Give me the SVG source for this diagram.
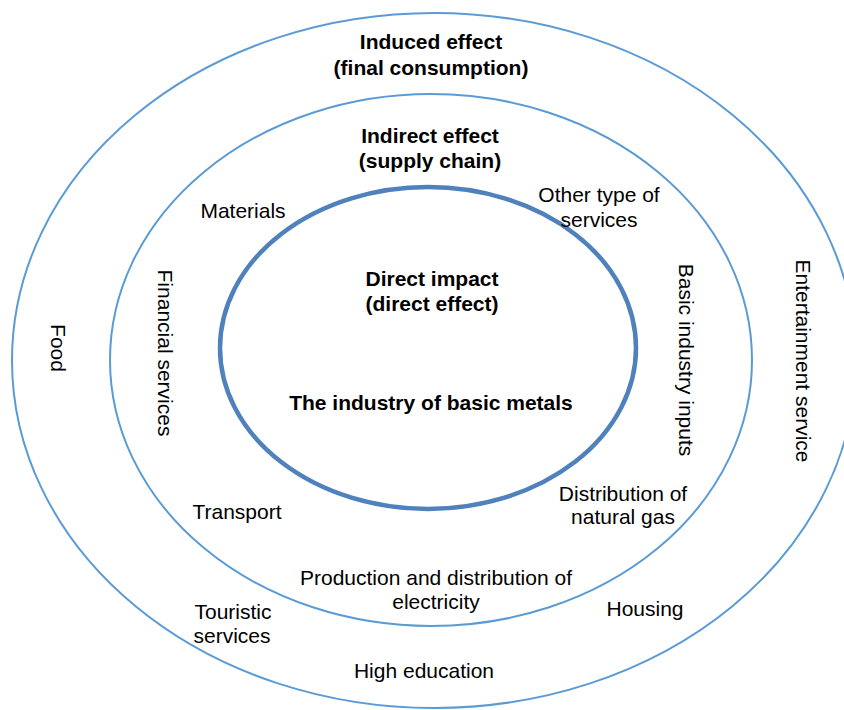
<svg xmlns="http://www.w3.org/2000/svg" width="844" height="710" viewBox="0 0 844 710">
<style>
  .ring { fill: none; stroke: #5B9BD5; stroke-width: 2; }
  .core { fill: none; stroke: #4F81BD; stroke-width: 4.5; }
  text { font-family: "Liberation Sans", Arial, sans-serif; font-size: 21px; fill: #000; text-anchor: middle; }
  .b { font-weight: bold; }
</style>
<rect x="0" y="0" width="844" height="710" fill="#ffffff"/>
<g id="ring-induced">
  <ellipse class="ring" cx="434" cy="360.5" rx="422" ry="347.5"/>
  <text class="b" x="431" y="49">Induced effect</text>
  <text class="b" x="431" y="75">(final consumption)</text>
</g>
<g id="ring-indirect">
  <ellipse class="ring" cx="431" cy="360" rx="321" ry="266"/>
  <text class="b" x="430" y="143">Indirect effect</text>
  <text class="b" x="430" y="168">(supply chain)</text>
</g>
<g id="ring-direct">
  <ellipse class="core" cx="428" cy="348" rx="208" ry="161"/>
  <text class="b" x="432" y="286">Direct impact</text>
  <text class="b" x="432" y="311">(direct effect)</text>
  <text class="b" x="431" y="410">The industry of basic metals</text>
</g>
<g id="label-materials"><text x="243" y="218">Materials</text></g>
<g id="label-other-services"><text x="599" y="202">Other type of</text><text x="599" y="227">services</text></g>
<g id="label-financial"><text transform="translate(158,353) rotate(90)">Financial services</text></g>
<g id="label-food"><text transform="translate(51,348) rotate(90)">Food</text></g>
<g id="label-basic-inputs"><text transform="translate(679,360) rotate(90)">Basic industry inputs</text></g>
<g id="label-entertainment"><text transform="translate(796,361) rotate(90)">Entertainment service</text></g>
<g id="label-transport"><text x="237" y="519">Transport</text></g>
<g id="label-gas"><text x="623" y="501">Distribution of</text><text x="623" y="524">natural gas</text></g>
<g id="label-electricity"><text x="436" y="585">Production and distribution of</text><text x="436" y="609">electricity</text></g>
<g id="label-touristic"><text x="233" y="619">Touristic</text><text x="232" y="643">services</text></g>
<g id="label-housing"><text x="645" y="616">Housing</text></g>
<g id="label-education"><text x="424" y="678">High education</text></g>
<g id="connectors"></g>
</svg>
